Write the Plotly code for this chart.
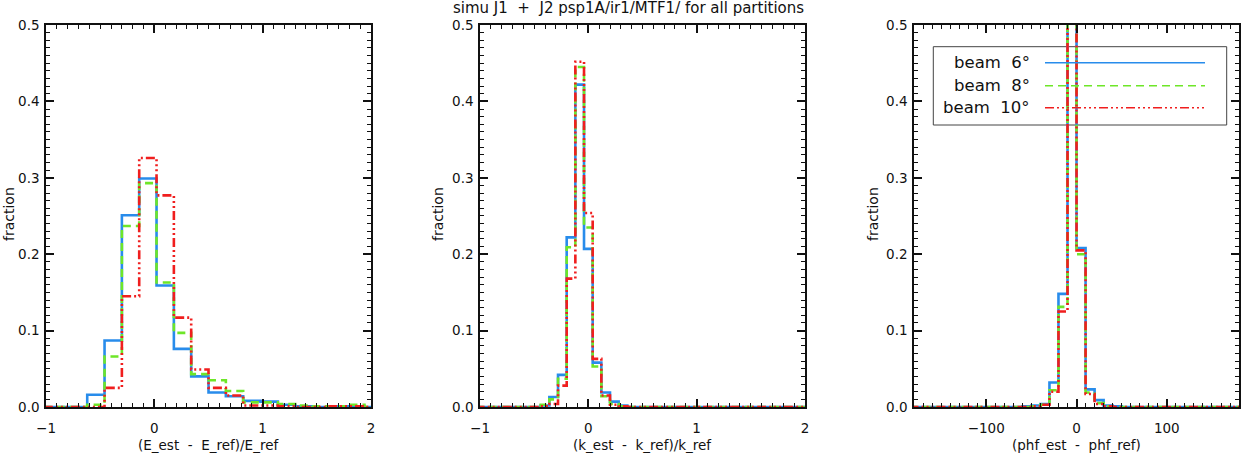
import numpy as np
import plotly.graph_objects as go

# ---------------- data ----------------
title_text = "simu J1  +  J2 psp1A/ir1/MTF1/ for all partitions"
series_names = ["beam  6°", "beam  8°", "beam  10°"]

# panel 1: (E_est - E_ref)/E_ref, bin width 0.16
e_centers = [-1.02, -0.86, -0.70, -0.54, -0.38, -0.22, -0.06, 0.10, 0.26, 0.42,
             0.58, 0.74, 0.90, 1.06, 1.22, 1.38, 1.54, 1.70, 1.86, 2.02]
e_beam6 = [0, 0, 0, 0.016, 0.087, 0.251, 0.299, 0.159, 0.076, 0.040,
           0.019, 0.014, 0.008, 0.007, 0.003, 0.001, 0.0, 0.001, 0.001, 0]
e_beam8 = [0, 0, 0, 0.003, 0.066, 0.237, 0.293, 0.163, 0.097, 0.043,
           0.035, 0.021, 0.006, 0.006, 0.004, 0.002, 0.001, 0.001, 0.003, 0]
e_beam10 = [0, 0, 0, 0.0, 0.025, 0.145, 0.326, 0.277, 0.117, 0.049,
            0.025, 0.015, 0.002, 0.002, 0.001, 0.0, 0.0, 0.001, 0.001, 0]

# panel 2: (k_est - k_ref)/k_ref, bin width 0.08
k_centers = [-1.04, -0.96, -0.88, -0.80, -0.72, -0.64, -0.56, -0.48, -0.40, -0.32,
             -0.24, -0.16, -0.08, 0.00, 0.08, 0.16, 0.24, 0.32, 0.40, 0.48,
             0.56, 0.64, 0.72, 0.80, 0.88, 0.96, 1.04, 1.12, 1.20, 1.28,
             1.36, 1.44, 1.52, 1.60, 1.68, 1.76, 1.84, 1.92, 2.00, 2.08]
k_beam6 = [0, 0, 0, 0, 0, 0, 0, 0, 0.002, 0.013,
           0.042, 0.222, 0.422, 0.207, 0.058, 0.019, 0.007, 0.002, 0, 0,
           0, 0, 0, 0, 0, 0, 0, 0, 0, 0,
           0, 0, 0, 0, 0, 0, 0, 0, 0, 0]
k_beam8 = [0, 0, 0, 0, 0, 0, 0, 0, 0.003, 0.010,
           0.037, 0.209, 0.445, 0.235, 0.053, 0.014, 0.004, 0.001, 0, 0,
           0, 0, 0, 0, 0, 0, 0, 0, 0, 0,
           0, 0, 0, 0, 0, 0, 0, 0, 0, 0]
k_beam10 = [0, 0, 0, 0, 0, 0, 0, 0, 0.001, 0.004,
            0.028, 0.168, 0.452, 0.254, 0.063, 0.015, 0.003, 0.001, 0, 0,
            0, 0, 0, 0, 0, 0, 0, 0, 0, 0,
            0, 0, 0, 0, 0, 0, 0, 0, 0, 0]

# panel 3: (phf_est - phf_ref), bin width 10
p_centers = [-185, -175, -165, -155, -145, -135, -125, -115, -105, -95,
             -85, -75, -65, -55, -45, -35, -25, -15, -5, 5,
             15, 25, 35, 45, 55, 65, 75, 85, 95, 105,
             115, 125, 135, 145, 155, 165, 175, 185]
p_beam6 = [0, 0, 0, 0, 0, 0, 0, 0, 0, 0,
           0, 0, 0, 0.001, 0.002, 0.004, 0.032, 0.148, 0.60, 0.208,
           0.023, 0.009, 0.002, 0.001, 0, 0, 0, 0, 0, 0,
           0, 0, 0, 0, 0, 0, 0, 0]
p_beam8 = [0, 0, 0, 0, 0, 0, 0, 0, 0, 0,
           0, 0, 0, 0, 0.001, 0.003, 0.022, 0.131, 0.62, 0.200,
           0.019, 0.005, 0.001, 0, 0, 0, 0, 0, 0, 0,
           0, 0, 0, 0, 0, 0, 0, 0]
p_beam10 = [0, 0, 0, 0, 0, 0, 0, 0, 0, 0,
            0, 0, 0, 0, 0.001, 0.003, 0.020, 0.125, 0.63, 0.205,
            0.017, 0.004, 0.001, 0, 0, 0, 0, 0, 0, 0,
            0, 0, 0, 0, 0, 0, 0, 0]

x_titles = ["(E_est  -  E_ref)/E_ref", "(k_est  -  k_ref)/k_ref", "(phf_est  -  phf_ref)"]
y_title = "fraction"

# ---------------- style ----------------
colors = ["rgb(40,140,235)", "rgb(110,230,40)", "rgb(240,30,30)"]
dashes = ["solid", "8px,5px", "9px,3px,2px,3px,2px,3px,2px,3px"]
font_family = "DejaVu Sans"
ink = "#111"

xdom = [[0.0367, 0.2956], [0.3825, 0.6414], [0.7283, 0.9873]]
ydom = [0.1114, 0.9454]
xranges = [[-1, 2], [-1, 2], [-180, 180]]
xmajor = [(-1, 1), (-1, 1), (0, 100)]
xminor = [0.1, 0.1, 10]

fig = go.Figure()

panels = [
    (e_centers, [e_beam6, e_beam8, e_beam10]),
    (k_centers, [k_beam6, k_beam8, k_beam10]),
    (p_centers, [p_beam6, p_beam8, p_beam10]),
]

for i, (xc, ys) in enumerate(panels):
    ax = "" if i == 0 else str(i + 1)
    for j, yv in enumerate(ys):
        fig.add_trace(go.Scatter(
            x=xc, y=yv, mode="lines", line_shape="hvh",
            line=dict(color=colors[j], width=2.6, dash=dashes[j]),
            xaxis="x" + ax, yaxis="y" + ax, showlegend=False, hoverinfo="skip"))

axis_common = dict(
    showline=True, linecolor=ink, linewidth=1.5, mirror="ticks",
    ticks="inside", ticklen=8, tickwidth=1.5, tickcolor=ink,
    showgrid=False, zeroline=False, automargin=False,
    tickfont=dict(family=font_family, size=13.5, color=ink),
)

layout = dict(
    template="none",
    width=1255, height=458, margin=dict(l=0, r=0, t=0, b=0, autoexpand=False),
    paper_bgcolor="white", plot_bgcolor="white", showlegend=False,
    font=dict(family=font_family, color=ink),
)

for i in range(3):
    ax = "" if i == 0 else str(i + 1)
    xa = dict(range=xranges[i], tickmode="linear", tick0=xmajor[i][0], dtick=xmajor[i][1],
              minor=dict(tickmode="linear", tick0=0, dtick=xminor[i], ticks="inside",
                         ticklen=4.5, tickwidth=1.2, tickcolor=ink, showgrid=False))
    xa.update(axis_common)
    xa.update(domain=xdom[i], anchor="y" + ax, ticklabelstandoff=8)
    ya = dict(range=[0, 0.5], tickmode="linear", tick0=0, dtick=0.1, tickformat=".1f",
              minor=dict(tickmode="linear", tick0=0, dtick=0.01, ticks="inside",
                         ticklen=4.5, tickwidth=1.2, tickcolor=ink, showgrid=False))
    ya.update(axis_common)
    ya.update(domain=ydom, anchor="x" + ax, ticklabelstandoff=2)
    layout["xaxis" + ax] = xa
    layout["yaxis" + ax] = ya

fig.update_layout(**layout)

annotations = []
annotations.append(dict(text=title_text, x=0.501, y=1 - 8 / 458, xref="paper", yref="paper",
                        showarrow=False, xanchor="center", yanchor="middle",
                        font=dict(size=15, family=font_family, color=ink)))
ytitle_x = [9 / 1255, 438 / 1255, 873 / 1255]
for i in range(3):
    annotations.append(dict(text=y_title, x=ytitle_x[i], y=(458 - 214) / 458, xref="paper", yref="paper",
                            showarrow=False, textangle=-90, xanchor="center", yanchor="middle",
                            font=dict(size=14, family=font_family, color=ink)))
    annotations.append(dict(text=x_titles[i], x=(xdom[i][0] + xdom[i][1]) / 2, y=(458 - 445) / 458,
                            xref="paper", yref="paper", showarrow=False,
                            xanchor="center", yanchor="middle",
                            font=dict(size=13.5, family=font_family, color=ink)))

# legend drawn in panel 3
leg_rows_y = [(458 - 62.7) / 458, (458 - 85.7) / 458, (458 - 107.7) / 458]
shapes = [dict(type="rect", xref="paper", yref="paper",
               x0=933.3 / 1255, x1=1226.7 / 1255, y0=(458 - 125) / 458, y1=(458 - 46.7) / 458,
               line=dict(color="#444", width=1), fillcolor="rgba(0,0,0,0)", layer="below")]
for j in range(3):
    shapes.append(dict(type="line", xref="paper", yref="paper",
                       x0=1045 / 1255, x1=1205 / 1255, y0=leg_rows_y[j], y1=leg_rows_y[j],
                       line=dict(color=colors[j], width=1.6, dash=dashes[j])))
    annotations.append(dict(text=series_names[j], x=1032 / 1255, y=leg_rows_y[j],
                            xref="paper", yref="paper", showarrow=False,
                            xanchor="right", yanchor="middle",
                            font=dict(size=16.5, family=font_family, color=ink)))

fig.update_layout(annotations=annotations, shapes=shapes)
fig.write_html("out.html")
